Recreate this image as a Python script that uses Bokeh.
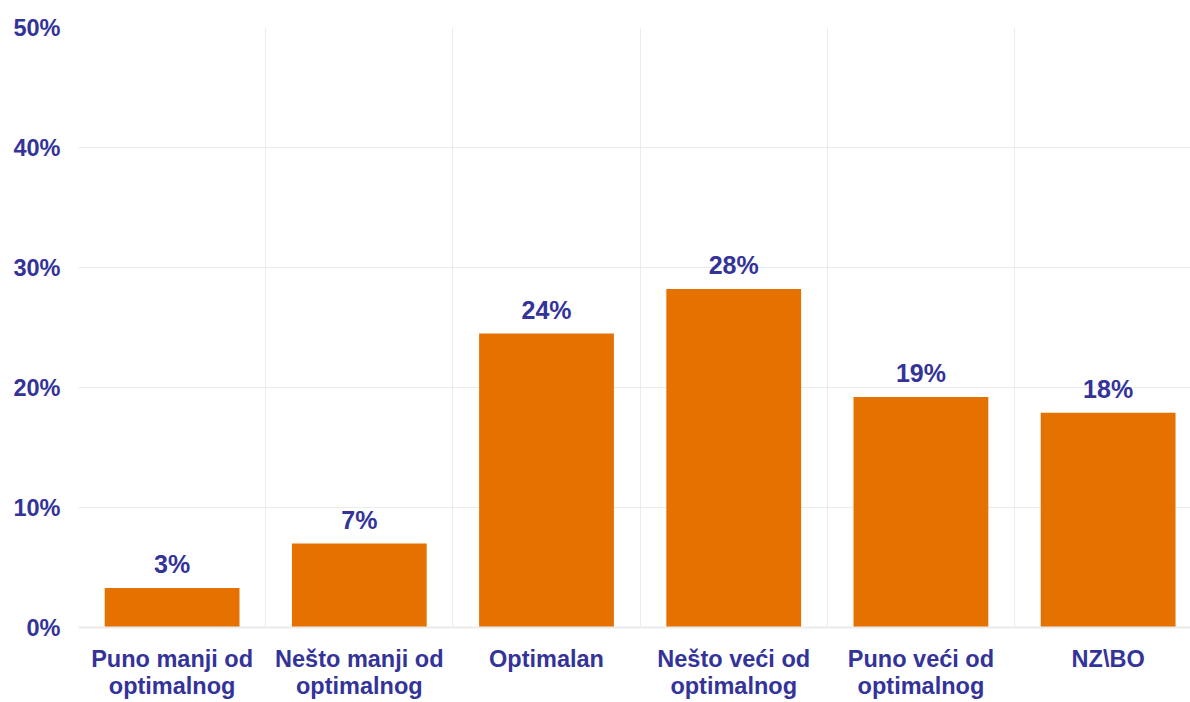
from bokeh.plotting import figure
from bokeh.models import ColumnDataSource, FixedTicker, Range1d, PrintfTickFormatter, LabelSet
from bokeh.core.properties import value
from bokeh.embed import file_html
from bokeh.resources import INLINE

categories = ["Puno manji od\noptimalnog", "Nešto manji od\noptimalnog", "Optimalan",
              "Nešto veći od\noptimalnog", "Puno veći od\noptimalnog", "NZ\\BO"]
values = [3.3, 7.0, 24.5, 28.2, 19.2, 17.9]
labels = ["3%", "7%", "24%", "28%", "19%", "18%"]
y_ticks = [0, 10, 20, 30, 40, 50]

TEXT = "#333399"
BAR = "#E57200"
GRID = "#EBEBEB"
FONT = "Liberation Sans"

xs = [i + 0.5 for i in range(len(categories))]
src = ColumnDataSource(dict(x=xs, top=values, lab=labels))

p = figure(width=1190, height=702, output_backend="svg", toolbar_location=None,
           x_range=Range1d(0, 5.94), y_range=Range1d(0, 50),
           min_border_left=78, min_border_top=27, min_border_bottom=75, min_border_right=0)
p.outline_line_color = None

p.vbar(x="x", top="top", width=0.72, source=src, color=BAR, line_color=None)

lbl = LabelSet(x="x", y="top", text="lab", source=src, text_align="center",
               text_baseline="bottom", y_offset=10, text_color=TEXT,
               text_font=value(FONT), text_font_style="bold", text_font_size="25px")
p.add_layout(lbl)

p.xaxis.ticker = FixedTicker(ticks=xs)
p.xaxis.major_label_overrides = {x: c for x, c in zip(xs, categories)}
p.xaxis.major_tick_line_color = None
p.xaxis.minor_tick_line_color = None
p.xaxis.axis_line_color = GRID
p.xaxis.axis_line_width = 2
p.xaxis.major_label_standoff = 12
p.xaxis.major_label_text_font = FONT
p.xaxis.major_label_text_font_style = "bold"
p.xaxis.major_label_text_font_size = "23.5px"
p.xaxis.major_label_text_line_height = 1.05
p.xaxis.major_label_text_color = TEXT

p.yaxis.ticker = FixedTicker(ticks=y_ticks)
p.yaxis.formatter = PrintfTickFormatter(format="%d%%")
p.yaxis.major_tick_line_color = None
p.yaxis.minor_tick_line_color = None
p.yaxis.axis_line_color = None
p.yaxis.major_label_standoff = 12
p.yaxis.major_label_text_font = FONT
p.yaxis.major_label_text_font_style = "bold"
p.yaxis.major_label_text_font_size = "23.5px"
p.yaxis.major_label_text_color = TEXT

p.xgrid.ticker = FixedTicker(ticks=[0, 1, 2, 3, 4, 5, 6])
p.xgrid.grid_line_color = GRID
p.ygrid.grid_line_color = GRID

open("out.html", "w").write(file_html(p, INLINE))
